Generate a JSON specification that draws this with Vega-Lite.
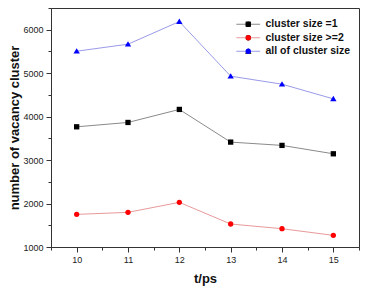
{
  "$schema": "https://vega.github.io/schema/vega-lite/v6.json",
  "width": 308,
  "height": 239,
  "autosize": {"type": "none"},
  "padding": {"left": 51, "top": 8, "right": 10, "bottom": 44},
  "background": "white",
  "config": {
    "view": {"stroke": "#333", "strokeWidth": 1},
    "font": "Liberation Sans"
  },
  "data": {
    "values": [
      {"t": 10, "series": "cluster size =1", "value": 3766},
      {"t": 11, "series": "cluster size =1", "value": 3866},
      {"t": 12, "series": "cluster size =1", "value": 4166},
      {"t": 13, "series": "cluster size =1", "value": 3414},
      {"t": 14, "series": "cluster size =1", "value": 3338},
      {"t": 15, "series": "cluster size =1", "value": 3145},
      {"t": 10, "series": "cluster size >=2", "value": 1751},
      {"t": 11, "series": "cluster size >=2", "value": 1797},
      {"t": 12, "series": "cluster size >=2", "value": 2028},
      {"t": 13, "series": "cluster size >=2", "value": 1529},
      {"t": 14, "series": "cluster size >=2", "value": 1421},
      {"t": 15, "series": "cluster size >=2", "value": 1268},
      {"t": 10, "series": "all of cluster size", "value": 5506},
      {"t": 11, "series": "all of cluster size", "value": 5667},
      {"t": 12, "series": "all of cluster size", "value": 6188},
      {"t": 13, "series": "all of cluster size", "value": 4931},
      {"t": 14, "series": "all of cluster size", "value": 4747},
      {"t": 15, "series": "all of cluster size", "value": 4409}
    ]
  },
  "encoding": {
    "x": {
      "field": "t", "type": "quantitative",
      "scale": {"domain": [9.5, 15.5], "nice": false, "zero": false},
      "axis": {
        "title": "t/ps", "titleFontSize": 13, "titleFontWeight": "bold", "titleColor": "#111", "titlePadding": 8,
        "values": [9.5, 10, 10.5, 11, 11.5, 12, 12.5, 13, 13.5, 14, 14.5, 15, 15.5],
        "labelExpr": "datum.value % 1 === 0 ? datum.value : ''",
        "tickSize": {"condition": {"test": "datum.value % 1 === 0", "value": 5}, "value": 3},
        "grid": false, "domainColor": "#333", "tickColor": "#333",
        "labelFontSize": 9, "labelColor": "#222", "labelPadding": 3
      }
    },
    "y": {
      "field": "value", "type": "quantitative",
      "scale": {"domain": [1000, 6500], "nice": false, "zero": false},
      "axis": {
        "title": "number of vacancy cluster", "titleFontSize": 13, "titleFontWeight": "bold", "titleColor": "#111", "titlePadding": 1,
        "values": [1000, 1500, 2000, 2500, 3000, 3500, 4000, 4500, 5000, 5500, 6000, 6500],
        "labelExpr": "datum.value % 1000 === 0 ? datum.value : ''",
        "tickSize": {"condition": {"test": "datum.value % 1000 === 0", "value": 5}, "value": 3},
        "grid": false, "domainColor": "#333", "tickColor": "#333",
        "labelFontSize": 9, "labelColor": "#222", "labelPadding": 3
      }
    }
  },
  "layer": [
    {
      "mark": {"type": "line", "strokeWidth": 1},
      "encoding": {
        "color": {
          "field": "series", "type": "nominal",
          "scale": {"domain": ["cluster size =1", "cluster size >=2", "all of cluster size"], "range": ["#8a8a8a", "#e89a9a", "#9a9ae8"]},
          "legend": {
            "orient": "none", "legendX": 192, "legendY": 11, "title": null,
            "symbolType": "M-4.5,0H4.5", "symbolSize": 28, "symbolStrokeWidth": 1,
            "labelFontSize": 10.5, "labelFontWeight": "bold", "labelColor": "#111",
            "rowPadding": 2.5, "labelOffset": 12
          }
        }
      }
    },
    {
      "mark": {"type": "point", "filled": true, "opacity": 1, "size": 28},
      "encoding": {
        "color": {
          "field": "series", "type": "nominal",
          "scale": {"domain": ["cluster size =1", "cluster size >=2", "all of cluster size"], "range": ["#000000", "#ff0000", "#0000ff"]},
          "legend": {
            "orient": "none", "legendX": 192, "legendY": 11, "title": null,
            "symbolSize": 28, "symbolOpacity": 1, "symbolStrokeWidth": 0,
            "labelFontSize": 10.5, "labelFontWeight": "bold", "labelExpr": "''",
            "rowPadding": 2.5, "labelOffset": 12
          }
        },
        "shape": {
          "field": "series", "type": "nominal",
          "scale": {"domain": ["cluster size =1", "cluster size >=2", "all of cluster size"], "range": ["square", "circle", "M0,-1.15L1.2,0.9L-1.2,0.9Z"]},
          "legend": {
            "orient": "none", "legendX": 192, "legendY": 11, "title": null,
            "symbolSize": 28, "symbolOpacity": 1, "symbolStrokeWidth": 0,
            "labelFontSize": 10.5, "labelFontWeight": "bold", "labelExpr": "''",
            "rowPadding": 2.5, "labelOffset": 12
          }
        }
      }
    }
  ],
  "resolve": {"scale": {"color": "independent"}}
}
